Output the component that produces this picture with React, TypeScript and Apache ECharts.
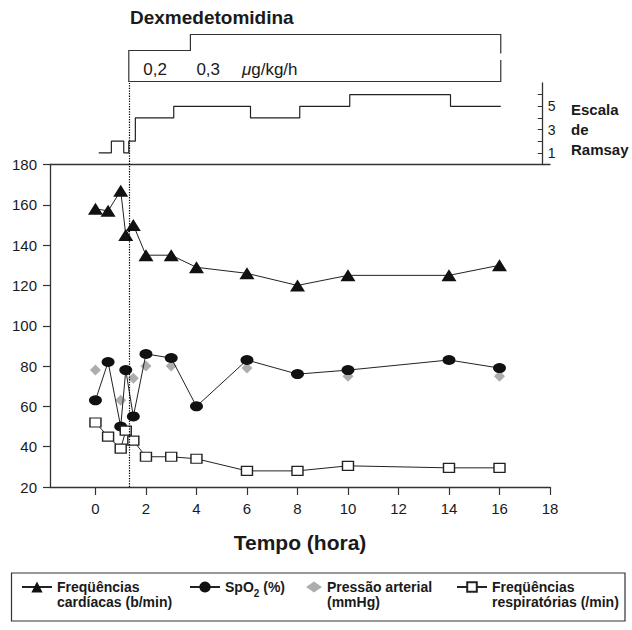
import React, { useEffect, useRef } from "react";
import * as echarts from "echarts";

// ---- data ----
const times = [0, 0.5, 1, 1.2, 1.5, 2, 3, 4, 6, 8, 10, 14, 16];
const heartRate = [158, 157, 167, 145, 150, 135, 135, 129, 126, 120, 125, 125, 130];
const spo2 = [63, 82, 50, 78, 55, 86, 84, 60, 83, 76, 78, 83, 79];
const pressureTimes = [0, 1, 1.5, 2, 3, 6, 10, 16];
const pressure = [78, 63, 74, 80, 80, 79, 75, 75];
const respRate = [52, 45, 39, 48, 43, 35, 35, 34, 28, 28, 30.5, 29.5, 29.5];

const ramsayTimes = [0.13, 0.63, 1.12, 1.32, 1.58, 3.1, 6.14, 8.09, 10.07, 14.06, 16.05];
const ramsayLevels = [1, 2, 1, 2, 4, 5, 4, 5, 6, 5, 5];

const infusionStart = 1.32;
const doseTimes = [1.32, 3.76, 16.05]; // start, dose change, end
const doseLabels = ["0,2", "0,3"];
const doseUnit = "μg/kg/h";

const xTicks = [0, 2, 4, 6, 8, 10, 12, 14, 16, 18];
const ramsayTickValues = [1, 2, 3, 4, 5, 6];
const ramsayLabelValues = [1, 3, 5];

const HR = "Freqüências cardíacas (b/min)";
const SPO2 = "SpO2 (%)";
const PA = "Pressão arterial (mmHg)";
const RESP = "Freqüências respiratórias (/min)";

export default function App() {
  const ref = useRef<HTMLDivElement>(null);
  useEffect(() => {
    document.body.style.margin = "0";
    document.body.style.overflow = "hidden";
    const chart = echarts.init(ref.current!, null, { renderer: "svg" });
    const font = '"Liberation Sans", Arial, Helvetica, sans-serif';
    const ink = "#1a1a1a";
    const axisColor = "#333";
    const pair = (xs: number[], ys: number[]) => xs.map((x, i) => [x, ys[i]]);
    const dotted = {
      silent: true,
      symbol: ["none", "none"],
      label: { show: false },
      lineStyle: { type: [1.3, 1.3], color: "#000", width: 1.2 },
      emphasis: { disabled: true },
      data: [{ xAxis: infusionStart }],
    };
    const twoLineText = {
      fontSize: 14,
      fontWeight: "bold",
      color: ink,
      fontFamily: font,
      lineHeight: 15,
    };
    const legendBase = {
      orient: "horizontal",
      selectedMode: false,
      padding: 0,
      itemWidth: 30,
      itemHeight: 14,
    };
    const rowTop = 564.5; // first legend row centred at ~587

    chart.setOption({
      animation: false,
      textStyle: { fontFamily: font },
      grid: [
        { left: 50, right: 82, top: 164.5, bottom: 143 },
        { left: 50, right: 82, top: 83, height: 81.5 },
      ],
      xAxis: [
        {
          gridIndex: 0,
          type: "value",
          min: -1.8,
          max: 18,
          axisLine: { show: true, onZero: false, lineStyle: { color: axisColor, width: 1.3 } },
          axisTick: { show: true, customValues: xTicks, length: 8, lineStyle: { color: axisColor, width: 1.2 } },
          axisLabel: { customValues: xTicks, fontSize: 15, color: ink, margin: 14 },
          splitLine: { show: false },
          name: "Tempo (hora)",
          nameLocation: "middle",
          nameGap: 45,
          nameTextStyle: { fontSize: 21, fontWeight: "bold", color: ink },
        },
        {
          gridIndex: 1,
          type: "value",
          min: -1.8,
          max: 18,
          axisLine: { show: true, onZero: false, lineStyle: { color: axisColor, width: 1.3 } },
          axisTick: { show: false },
          axisLabel: { show: false },
          splitLine: { show: false },
        },
      ],
      yAxis: [
        {
          gridIndex: 0,
          type: "value",
          min: 20,
          max: 180,
          interval: 20,
          axisLine: { show: true, onZero: false, lineStyle: { color: axisColor, width: 1.3 } },
          axisTick: { show: true, length: 7, lineStyle: { color: axisColor, width: 1.2 } },
          axisLabel: { fontSize: 15, color: ink, margin: 13 },
          splitLine: { show: false },
        },
        {
          gridIndex: 1,
          type: "value",
          min: 0,
          max: 7,
          position: "right",
          offset: -7.3,
          axisLine: { show: true, onZero: false, lineStyle: { color: axisColor, width: 1.3 } },
          axisTick: { show: true, inside: true, length: 5, customValues: ramsayTickValues, lineStyle: { color: axisColor } },
          axisLabel: { customValues: ramsayLabelValues, fontSize: 14, color: ink, margin: 5 },
          splitLine: { show: false },
        },
      ],
      legend: [
        { ...legendBase, data: [HR], left: 21, top: rowTop, formatter: () => "\nFreqüências\ncardíacas (b/min)", textStyle: twoLineText },
        {
          ...legendBase,
          data: [SPO2],
          left: 189,
          top: rowTop + 11.5,
          formatter: () => "{m|SpO}{s|2}{m| (%)}",
          textStyle: {
            fontSize: 14,
            fontWeight: "bold",
            color: ink,
            lineHeight: 22,
            rich: {
              m: { fontSize: 14, fontWeight: "bold", color: ink, fontFamily: font, lineHeight: 22 },
              s: { fontSize: 10, fontWeight: "bold", color: ink, fontFamily: font, verticalAlign: "bottom", lineHeight: 10 },
            },
          },
        },
        { ...legendBase, data: [PA], left: 306, top: rowTop, itemWidth: 16, itemHeight: 11, formatter: () => "\nPressão arterial\n(mmHg)", textStyle: twoLineText },
        { ...legendBase, data: [RESP], left: 456, top: rowTop, itemHeight: 12, formatter: () => "\nFreqüências\nrespiratórias (/min)", textStyle: twoLineText },
      ],
      series: [
        {
          name: PA,
          type: "scatter",
          xAxisIndex: 0,
          yAxisIndex: 0,
          data: pair(pressureTimes, pressure),
          symbol: "diamond",
          symbolSize: [11, 11],
          itemStyle: { color: "#999" },
          z: 1,
        },
        {
          name: HR,
          type: "line",
          xAxisIndex: 0,
          yAxisIndex: 0,
          data: pair(times, heartRate),
          symbol: "triangle",
          symbolSize: [15, 12],
          itemStyle: { color: "#111" },
          lineStyle: { color: "#222", width: 1 },
          z: 3,
          markLine: dotted,
        },
        {
          name: SPO2,
          type: "line",
          xAxisIndex: 0,
          yAxisIndex: 0,
          data: pair(times, spo2),
          symbol: "circle",
          symbolSize: [13, 10],
          itemStyle: { color: "#111" },
          lineStyle: { color: "#222", width: 1 },
          z: 3,
        },
        {
          name: RESP,
          type: "line",
          xAxisIndex: 0,
          yAxisIndex: 0,
          data: pair(times, respRate),
          symbol: "rect",
          symbolSize: [11, 9],
          itemStyle: { color: "#fff", borderColor: "#222", borderWidth: 1.3 },
          lineStyle: { color: "#222", width: 1 },
          z: 3,
        },
        {
          name: "Escala de Ramsay",
          type: "line",
          xAxisIndex: 1,
          yAxisIndex: 1,
          data: pair(ramsayTimes, ramsayLevels),
          step: "end",
          symbol: "none",
          lineStyle: { color: "#222", width: 1.2 },
          markLine: dotted,
        },
      ],
    });

    const px = (t: number) => chart.convertToPixel({ xAxisIndex: 1 }, t) as number;
    const [x0, x1, x2] = doseTimes.map(px);
    const lineStyle = { stroke: "#333", lineWidth: 1.2, fill: null };
    chart.setOption({
      graphic: [
        {
          type: "text",
          left: 130,
          top: 8,
          style: { text: "Dexmedetomidina", font: `bold 19px ${font}`, fill: ink },
        },
        {
          type: "polyline",
          shape: {
            points: [
              [x2, 53.5],
              [x2, 34.5],
              [x1, 34.5],
              [x1, 50.5],
              [x0, 50.5],
              [x0, 81.5],
              [x2, 81.5],
              [x2, 60],
            ],
          },
          style: lineStyle,
        },
        { type: "text", x: x0 + 14.5, y: 69.5, style: { text: doseLabels[0], font: `17px ${font}`, fill: ink, verticalAlign: "middle" } },
        { type: "text", x: x1 + 6, y: 69.5, style: { text: doseLabels[1], font: `17px ${font}`, fill: ink, verticalAlign: "middle" } },
        {
          type: "text",
          x: x1 + 51.5,
          y: 69.5,
          style: {
            text: "{i|" + doseUnit.charAt(0) + "}" + doseUnit.slice(1),
            font: `17px ${font}`,
            fill: ink,
            verticalAlign: "middle",
            rich: { i: { fontStyle: "italic", fontSize: 17, fontFamily: font, fill: ink } },
          },
        },
        {
          type: "text",
          x: 571,
          y: 99,
          style: { text: "Escala\nde\nRamsay", font: `bold 15px ${font}`, fill: ink, lineHeight: 20 },
        },
        {
          type: "rect",
          shape: { x: 11.5, y: 573, width: 613.5, height: 48 },
          style: { stroke: "#333", lineWidth: 1.2, fill: null },
          z: -1,
        },
      ],
    });

    return () => chart.dispose();
  }, []);
  return <div ref={ref} style={{ width: 632, height: 630 }} />;
}
